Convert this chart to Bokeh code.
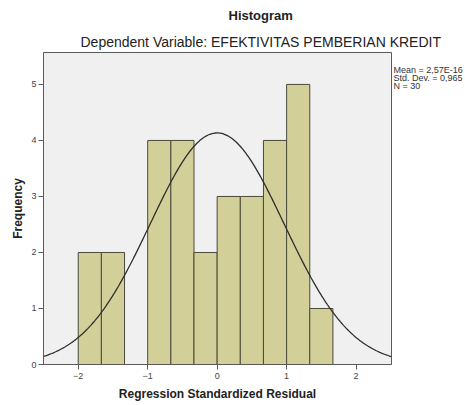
import numpy as np
from bokeh.plotting import figure
from bokeh.models import Range1d, FixedTicker, Label, Title, ColumnDataSource
from bokeh.embed import file_html
from bokeh.resources import INLINE

# ---- data ----
bin_left = [-2.0, -5/3, -4/3, -1.0, -2/3, -1/3, 0.0, 1/3, 2/3, 1.0, 4/3]
bin_width = 1/3
counts = [2, 2, 0, 4, 4, 2, 3, 3, 4, 5, 1]
mean = 2.57e-16
std_dev = 0.965
n_obs = 30
x_ticks = [-2, -1, 0, 1, 2]
y_ticks = [0, 1, 2, 3, 4, 5]
stats_lines = ["Mean = 2,57E-16", "Std. Dev. = 0,965", "N = 30"]
title_text = "Histogram"
subtitle_text = "Dependent Variable: EFEKTIVITAS PEMBERIAN KREDIT"
x_label = "Regression Standardized Residual"
y_label = "Frequency"

FONT = "Liberation Sans"
TXT = "#222222"

p = figure(width=465, height=405, output_backend="svg", toolbar_location=None,
           x_range=Range1d(-2.5, 2.51), y_range=Range1d(0, 5.57),
           min_border_left=43, min_border_right=74, min_border_top=50, min_border_bottom=41)
p.background_fill_color = "#F0F0F0"
p.border_fill_color = "white"
p.outline_line_color = "#5a5a5a"
p.outline_line_width = 1
p.xgrid.visible = False
p.ygrid.visible = False

for ax, ticks in ((p.xaxis[0], x_ticks), (p.yaxis[0], y_ticks)):
    ax.ticker = FixedTicker(ticks=ticks)
    ax.minor_tick_line_color = None
    ax.major_tick_in = 0
    ax.major_tick_out = 5
    ax.major_tick_line_color = "#5a5a5a"
    ax.axis_line_color = "#5a5a5a"
    ax.major_label_text_font = FONT
    ax.major_label_text_font_size = "9px"
    ax.major_label_text_color = "#444444"
    ax.major_label_standoff = 3
p.yaxis.major_label_standoff = 2

left = np.array(bin_left)
src = ColumnDataSource(dict(left=left, right=left + bin_width, top=counts, bottom=[0]*len(counts)))
p.quad(left="left", right="right", top="top", bottom="bottom", source=src,
       fill_color="#D3CF98", line_color="#4a4a3c", line_width=1)

# fitted normal curve scaled to histogram counts
xs = np.linspace(-2.5, 2.51, 300)
ys = n_obs * bin_width * np.exp(-0.5 * ((xs - mean) / std_dev) ** 2) / (std_dev * np.sqrt(2 * np.pi))
p.line(xs, ys, line_color="#2e2e2e", line_width=1.3)

# titles
p.add_layout(Title(text=subtitle_text, align="left", offset=37, standoff=6,
                   text_font=FONT, text_font_size="14px", text_font_style="normal",
                   text_color=TXT), "above")
p.add_layout(Title(text=title_text, align="left", offset=185, standoff=11,
                   text_font=FONT, text_font_size="13px", text_font_style="bold",
                   text_color=TXT), "above")
# axis titles
p.add_layout(Title(text=x_label, align="center", standoff=7,
                   text_font=FONT, text_font_size="12px", text_font_style="bold",
                   text_color=TXT), "below")
p.add_layout(Title(text=y_label, align="center", standoff=7,
                   text_font=FONT, text_font_size="12px", text_font_style="bold",
                   text_color=TXT), "left")

# statistics box text
p.add_layout(Label(x=2, y=300, x_units="screen", y_units="screen", text="\n".join(stats_lines),
                   text_font=FONT, text_font_size="9px", text_align="left",
                   text_baseline="top", text_line_height=0.8, text_color="#333333"), "right")

open("out.html", "w").write(file_html(p, INLINE))
